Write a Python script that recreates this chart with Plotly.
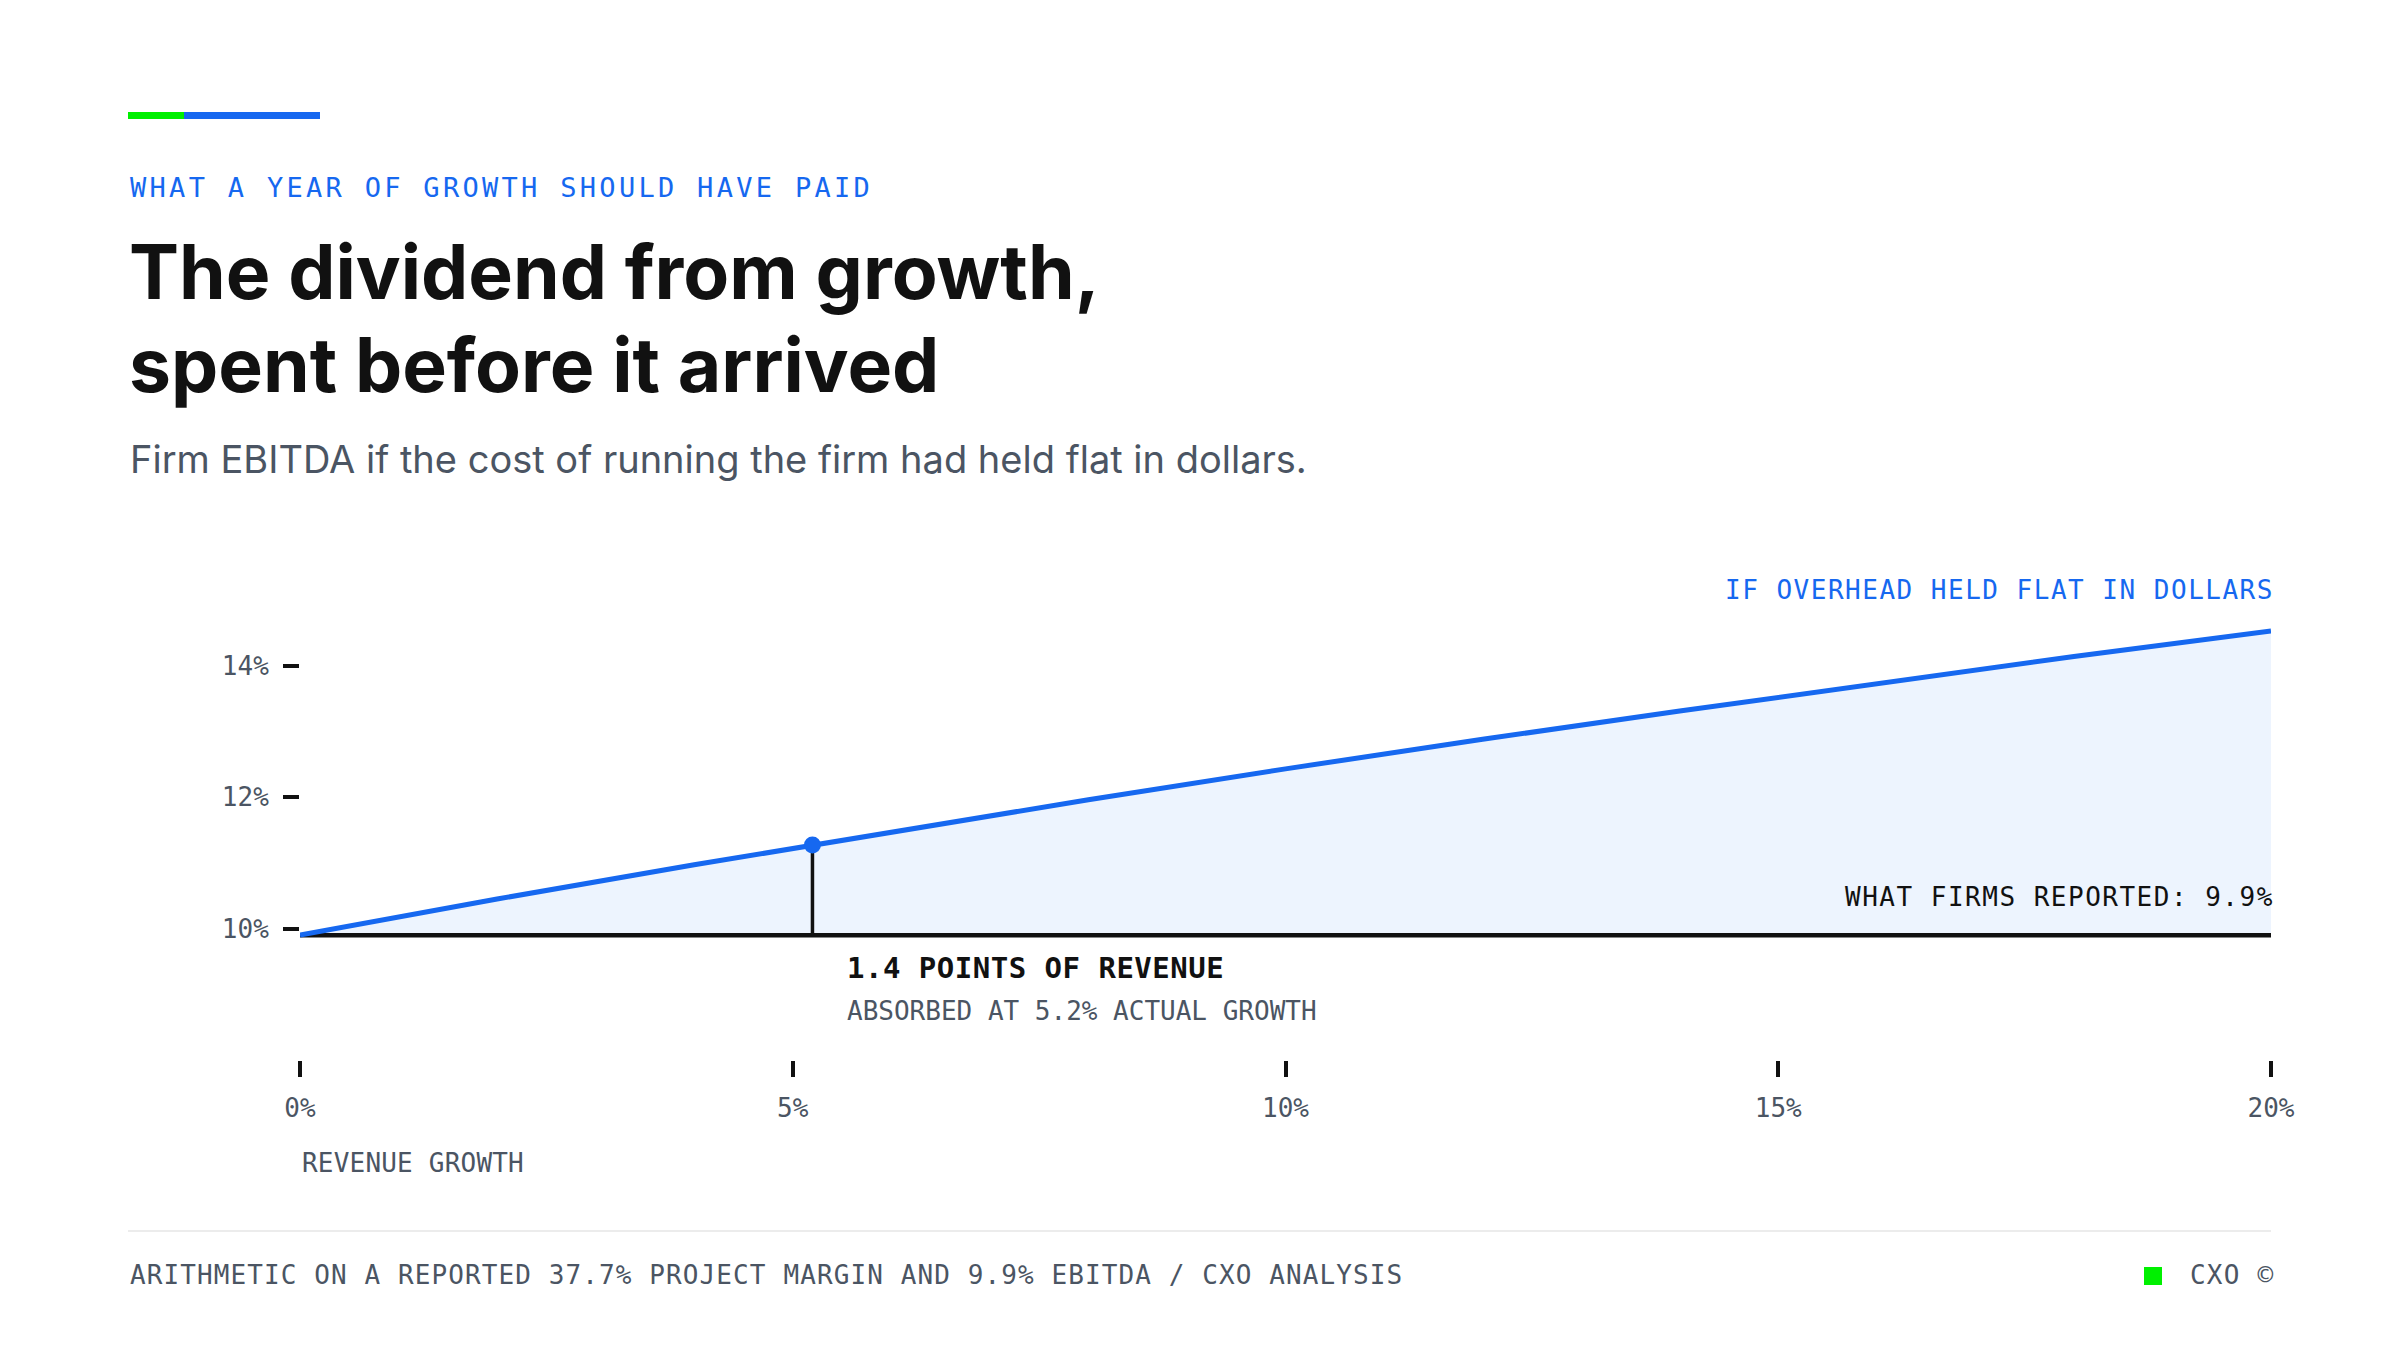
import plotly.graph_objects as go

# --- data ---
growth = [0, 2, 4, 6, 8, 10, 12, 14, 16, 18, 20]              # revenue growth, %
ebitda_flat = [9.90, 10.45, 10.97, 11.47, 11.96, 12.43,
               12.88, 13.31, 13.73, 14.14, 14.53]              # EBITDA if overhead flat, %
reported_ebitda = 9.9
actual_growth = 5.2
actual_ebitda = 11.27

x_ticks = [0, 5, 10, 15, 20]
x_ticktext = ["0%", "5%", "10%", "15%", "20%"]
y_ticks = [10, 12, 14]
y_ticktext = ["10%", "12%", "14%"]

# --- look ---
W, H = 2400, 1350
L, R, T, B = 300, 129, 600, 290
BLUE = "#1668f0"
GREEN = "#00f000"
FILL = "#edf4fe"
INK = "#111111"
GREY = "#4b5563"
MONO = "DejaVu Sans Mono"
SANS = "Inter"


def px(x):
    return (x - L) / (W - L - R)


def py(y):
    return (H - B - y) / (H - T - B)


def spaced(txt, ls):
    return f'<span style="letter-spacing:{ls}px">{txt}</span>'


fig = go.Figure()

# baseline for the fill
fig.add_trace(go.Scatter(x=[growth[0], growth[-1]], y=[reported_ebitda] * 2,
                         mode="lines", line=dict(width=0), hoverinfo="skip"))
fig.add_trace(go.Scatter(x=growth, y=ebitda_flat, mode="lines",
                         line=dict(width=0), fill="tonexty", fillcolor=FILL,
                         hoverinfo="skip"))
# what firms reported
fig.add_trace(go.Scatter(x=[growth[0], growth[-1]], y=[reported_ebitda] * 2,
                         mode="lines", line=dict(color=INK, width=4.5)))
# stem at actual growth
fig.add_trace(go.Scatter(x=[actual_growth, actual_growth],
                         y=[reported_ebitda, actual_ebitda],
                         mode="lines", line=dict(color=INK, width=3.5)))
# overhead-flat line
fig.add_trace(go.Scatter(x=growth, y=ebitda_flat, mode="lines",
                         line=dict(color=BLUE, width=5)))
fig.add_trace(go.Scatter(x=[actual_growth], y=[actual_ebitda], mode="markers",
                         marker=dict(color=BLUE, size=17)))

ann = []


def text(x, y, s, size, color, anchor="left", family=MONO, weight=400):
    ann.append(dict(xref="paper", yref="paper", x=px(x), y=py(y), text=s,
                    showarrow=False, xanchor=anchor, yanchor="middle",
                    font=dict(family=family, size=size, color=color,
                              weight=weight)))


text(128, 187, spaced("WHAT A YEAR OF GROWTH SHOULD HAVE PAID", 3.3), 27, BLUE)
text(127, 272, "The dividend from growth,", 75, INK, family=SANS, weight=700)
text(127, 364, "spent before it arrived", 75, INK, family=SANS, weight=700)
text(128, 459, "Firm EBITDA if the cost of running the firm had held flat in dollars.",
     38, GREY, family=SANS)

# trailing letter-spacing pushes right-anchored text left, so nudge x
text(2276, 590, spaced("IF OVERHEAD HELD FLAT IN DOLLARS", 1.5), 26, BLUE, anchor="right")
text(2276, 897, spaced(f"WHAT FIRMS REPORTED: {reported_ebitda}%", 1.5), 26, INK, anchor="right")
text(845, 968, spaced("1.4 POINTS OF REVENUE", 0.5), 29, INK, weight=700)
text(845, 1011, f"ABSORBED AT {actual_growth}% ACTUAL GROWTH", 26, GREY)
text(300, 1163, spaced("REVENUE GROWTH", 0.2), 26, GREY)

text(128, 1275, spaced("ARITHMETIC ON A REPORTED 37.7% PROJECT MARGIN AND 9.9% EBITDA / CXO ANALYSIS", 1.1),
     26, GREY)
text(2276, 1275, spaced("CXO ©", 1.2), 26, GREY, anchor="right")

shapes = [
    dict(type="rect", xref="paper", yref="paper", x0=px(128), x1=px(184),
         y0=py(119), y1=py(112), fillcolor=GREEN, line=dict(width=0)),
    dict(type="rect", xref="paper", yref="paper", x0=px(184), x1=px(320),
         y0=py(119), y1=py(112), fillcolor=BLUE, line=dict(width=0)),
    dict(type="line", xref="paper", yref="paper", x0=px(128), x1=px(2271),
         y0=py(1231), y1=py(1231), line=dict(color="#ececec", width=2)),
    dict(type="rect", xref="paper", yref="paper", x0=px(2144), x1=px(2162),
         y0=py(1285), y1=py(1267), fillcolor=GREEN, line=dict(width=0)),
]

fig.update_layout(
    width=W, height=H,
    margin=dict(l=L, r=R, t=T, b=B),
    paper_bgcolor="white", plot_bgcolor="white",
    showlegend=False, hovermode=False,
    annotations=ann, shapes=shapes,
    xaxis=dict(range=[0, 20], tickvals=x_ticks, ticktext=x_ticktext,
               ticks="outside", ticklen=16, tickwidth=4, tickcolor=INK,
               ticklabelstandoff=9,
               showgrid=False, zeroline=False, showline=False,
               tickfont=dict(family=MONO, size=26, color=GREY)),
    yaxis=dict(range=[8, 15], tickvals=y_ticks, ticktext=y_ticktext,
               ticks="outside", ticklen=16, tickwidth=4, tickcolor=INK,
               ticklabelstandoff=9,
               showgrid=False, zeroline=False, showline=False,
               tickfont=dict(family=MONO, size=26, color=GREY)),
)

# the page's default body margin would push the figure off by 8px
fig.write_html("out.html", config={"displayModeBar": False},
               post_script="document.body.style.margin='0';")
